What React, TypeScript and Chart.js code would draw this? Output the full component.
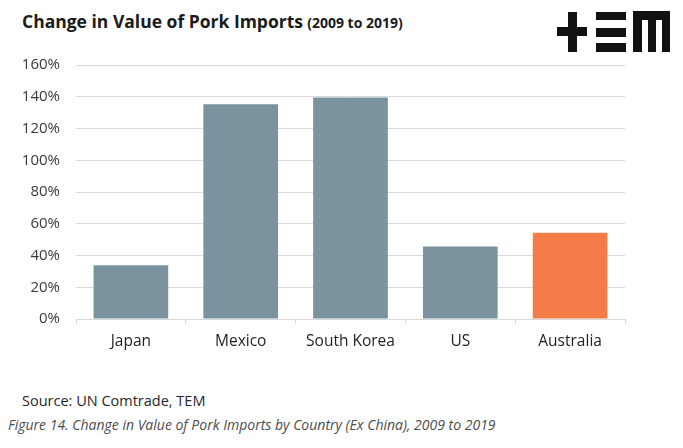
import React, { useEffect, useRef } from "react";
import { Chart, registerables } from "chart.js";

Chart.register(...registerables);

const categories = ["Japan", "Mexico", "South Korea", "US", "Australia"];
const values = [33.8, 135.3, 139.5, 45.6, 54.4];
const barColors = ["#7a939e", "#7a939e", "#7a939e", "#7a939e", "#f47c48"];
const yTicks = [0, 20, 40, 60, 80, 100, 120, 140, 160];

const FONT = "'Open Sans', 'Noto Sans', sans-serif";

function Logo() {
  const b = (l: number, t: number, w: number, h: number) => (
    <div style={{ position: "absolute", left: l, top: t, width: w, height: h, background: "#111" }} />
  );
  return (
    <>
      {b(557, 27, 30, 9)}
      {b(568, 12, 9, 40)}
      {b(596, 12, 30, 8)}
      {b(596, 28, 30, 9)}
      {b(596, 43, 30, 9)}
      {b(633, 11, 37, 9)}
      {b(633, 11, 9, 41)}
      {b(648, 11, 8, 41)}
      {b(662, 11, 8, 41)}
    </>
  );
}

export default function App() {
  const ref = useRef<HTMLCanvasElement>(null);
  useEffect(() => {
    if (!ref.current) return;
    const chart = new Chart(ref.current, {
      type: "bar",
      data: {
        labels: categories,
        datasets: [
          {
            data: values,
            backgroundColor: barColors,
            categoryPercentage: 1,
            barPercentage: 0.68,
          },
        ],
      },
      options: {
        animation: false,
        responsive: false,
        maintainAspectRatio: false,
        layout: { padding: { top: 23, right: 15, left: 0, bottom: 0 } },
        plugins: { legend: { display: false }, tooltip: { enabled: false } },
        scales: {
          x: {
            offset: true,
            grid: {
              offset: true,
              drawOnChartArea: false,
              drawTicks: true,
              tickLength: 5,
              color: "#d9d9d9",
            },
            border: { display: true, color: "#d9d9d9" },
            ticks: {
              font: { family: FONT, size: 15.5 },
              color: "#1f1f1f",
              padding: 8,
            },
            afterFit: (s: any) => {
              s.height = 40;
            },
          },
          y: {
            min: 0,
            max: 160,
            afterBuildTicks: (s: any) => {
              s.ticks = yTicks.map((v) => ({ value: v }));
            },
            grid: { color: "#d9d9d9", drawTicks: false, lineWidth: 1 },
            border: { display: false },
            ticks: {
              font: { family: FONT, size: 15 },
              color: "#3a3a3a",
              padding: 16,
              callback: (v: any) => v + "%",
            },
            afterFit: (s: any) => {
              s.width = 76;
            },
          },
        },
      },
    });
    return () => chart.destroy();
  }, []);

  return (
    <div style={{ position: "fixed", left: 0, top: 0, width: 683, height: 448, background: "#fff", fontFamily: FONT }}>
      <div style={{ position: "absolute", left: 22, top: 9, whiteSpace: "nowrap", color: "#1a1a1a", fontWeight: 700 }}>
        <span style={{ fontSize: 17.5 }}>Change in Value of Pork Imports</span>{" "}
        <span style={{ fontSize: 14 }}>(2009 to 2019)</span>
      </div>
      <Logo />
      <canvas ref={ref} width={640} height={319} style={{ position: "absolute", left: 0, top: 40, width: 640, height: 319 }} />
      <div style={{ position: "absolute", left: 22, top: 391, fontSize: 14.5, color: "#262626", whiteSpace: "nowrap" }}>
        Source: UN Comtrade, TEM
      </div>
      <div style={{ position: "absolute", left: 8, top: 415, fontSize: 14, fontStyle: "italic", color: "#4d4d4d", whiteSpace: "nowrap" }}>
        Figure 14. Change in Value of Pork Imports by Country (Ex China), 2009 to 2019
      </div>
    </div>
  );
}
